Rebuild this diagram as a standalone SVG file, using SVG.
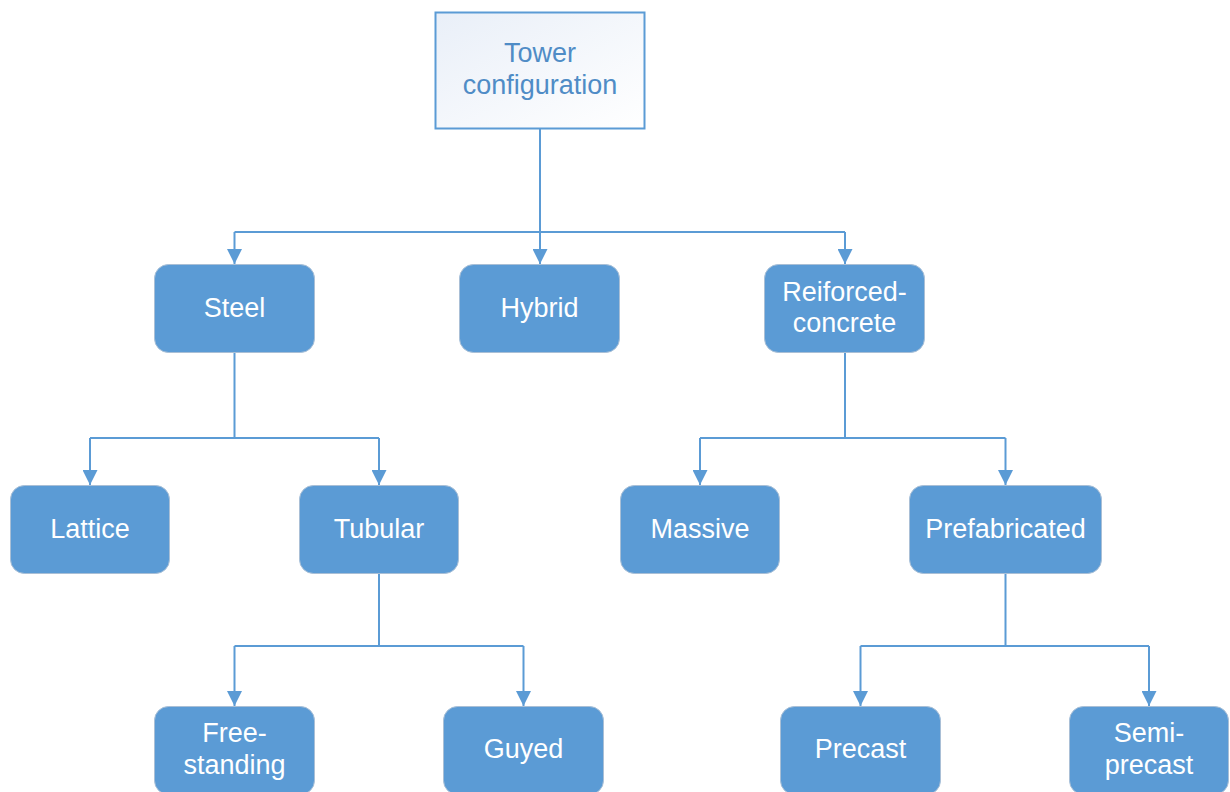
<svg xmlns="http://www.w3.org/2000/svg" width="1230" height="792" viewBox="0 0 1230 792">
<defs>
<linearGradient id="rootg" x1="0" y1="0" x2="1" y2="1">
<stop offset="0" stop-color="#e9eff8"/>
<stop offset="1" stop-color="#ffffff"/>
</linearGradient>
<marker id="arr" markerWidth="15" markerHeight="15" refX="15" refY="7.5" orient="auto" markerUnits="userSpaceOnUse" viewBox="0 0 15 15">
<path d="M0,0 L15,7.5 L0,15 Z" fill="#5b9bd5"/>
</marker>
</defs>
<style>
.n rect{fill:#5b9bd5;stroke:#a9bfd6;stroke-width:1}
.n text{fill:#ffffff;font-family:"Liberation Sans",Arial,sans-serif;font-size:27px;text-anchor:middle}
.root rect{fill:url(#rootg);stroke:#5b9bd5;stroke-width:2}
.root text{fill:#4f8cc6;font-family:"Liberation Sans",Arial,sans-serif;font-size:27px;text-anchor:middle}
.c path{fill:none;stroke:#5b9bd5;stroke-width:2}
</style>
<g class="c" id="connectors">
<path d="M540,128 V232"/>
<path d="M234.5,232 H845"/>
<path d="M234.5,232 V264" marker-end="url(#arr)"/>
<path d="M540,232 V264" marker-end="url(#arr)"/>
<path d="M845,232 V264" marker-end="url(#arr)"/>
<path d="M234.5,352 V438 M90,438 H379"/>
<path d="M90,438 V485" marker-end="url(#arr)"/>
<path d="M379,438 V485" marker-end="url(#arr)"/>
<path d="M845,352 V438 M700,438 H1005.5"/>
<path d="M700,438 V485" marker-end="url(#arr)"/>
<path d="M1005.5,438 V485" marker-end="url(#arr)"/>
<path d="M379,573 V646 M234.5,646 H523.5"/>
<path d="M234.5,646 V706" marker-end="url(#arr)"/>
<path d="M523.5,646 V706" marker-end="url(#arr)"/>
<path d="M1005.5,573 V646 M860.5,646 H1149"/>
<path d="M860.5,646 V706" marker-end="url(#arr)"/>
<path d="M1149,646 V706" marker-end="url(#arr)"/>
</g>
<g id="root" class="root"><rect x="435.5" y="12.5" width="209" height="116"/><text x="540" y="62">Tower</text><text x="540" y="94">configuration</text></g>
<g id="steel" class="n"><rect x="154.5" y="264.5" width="160" height="88" rx="14"/><text x="234.5" y="317">Steel</text></g>
<g id="hybrid" class="n"><rect x="459.5" y="264.5" width="160" height="88" rx="14"/><text x="539.5" y="317">Hybrid</text></g>
<g id="rc" class="n"><rect x="764.5" y="264.5" width="160" height="88" rx="14"/><text x="844.5" y="301">Reiforced-</text><text x="844.5" y="332">concrete</text></g>
<g id="lattice" class="n"><rect x="10.5" y="485.5" width="159" height="88" rx="14"/><text x="90" y="538">Lattice</text></g>
<g id="tubular" class="n"><rect x="299.5" y="485.5" width="159" height="88" rx="14"/><text x="379" y="538">Tubular</text></g>
<g id="massive" class="n"><rect x="620.5" y="485.5" width="159" height="88" rx="14"/><text x="700" y="538">Massive</text></g>
<g id="prefab" class="n"><rect x="909.5" y="485.5" width="192" height="88" rx="14"/><text x="1005.5" y="538">Prefabricated</text></g>
<g id="free" class="n"><rect x="154.5" y="706.5" width="160" height="88" rx="14"/><text x="234.5" y="742">Free-</text><text x="234.5" y="774">standing</text></g>
<g id="guyed" class="n"><rect x="443.5" y="706.5" width="160" height="88" rx="14"/><text x="523.5" y="758">Guyed</text></g>
<g id="precast" class="n"><rect x="780.5" y="706.5" width="160" height="88" rx="14"/><text x="860.5" y="758">Precast</text></g>
<g id="semi" class="n"><rect x="1069.5" y="706.5" width="159" height="88" rx="14"/><text x="1149" y="742">Semi-</text><text x="1149" y="774">precast</text></g>
</svg>
